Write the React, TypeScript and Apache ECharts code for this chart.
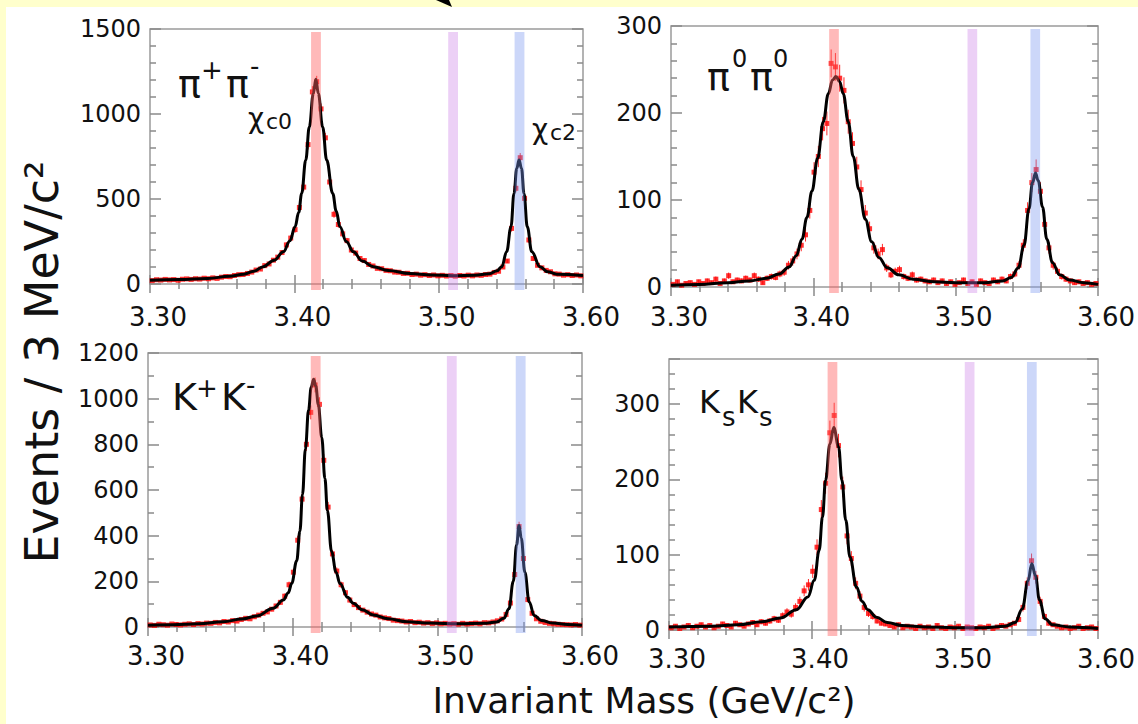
import React, { useEffect, useRef } from "react";
import * as echarts from "echarts";

// ---------- data ----------
const BIN_CENTERS: number[] = Array.from({ length: 100 }, (_, i) => +(3.3015 + 0.003 * i).toFixed(4));
const X_TICK_LABELS = ["3.30", "3.40", "3.50", "3.60"];

const PIPI_COUNTS = [
  20, 25, 23, 27, 24, 26, 22, 28, 30, 27, 31, 29, 34, 31, 36, 33, 40, 44, 43, 50,
  55, 56, 62, 70, 82, 88, 108, 118, 140, 158, 185, 230, 270, 320, 450, 570, 820, 1130, 1190, 1030,
  860, 600, 410, 350, 295, 255, 200, 182, 150, 138, 115, 106, 92, 90, 80, 78, 70, 69, 62, 63,
  56, 58, 52, 55, 50, 53, 48, 51, 47, 50, 46, 50, 47, 52, 48, 53, 51, 56, 58, 68,
  75, 100, 135, 327, 563, 743, 504, 259, 150, 110, 95, 80, 72, 60, 58, 52, 55, 50, 53, 48,
];
const PIPI_FIT: [number, number][] = [
  [3.3, 22], [3.32, 27], [3.34, 33], [3.355, 45], [3.365, 58], [3.372, 75], [3.3785, 102], [3.386, 140],
  [3.3924, 190], [3.397, 255], [3.4005, 337], [3.403, 420], [3.4051, 533], [3.4079, 729], [3.4104, 925],
  [3.4132, 1122], [3.4149, 1205], [3.4166, 1122], [3.4196, 925], [3.4224, 729], [3.4266, 533], [3.429, 430],
  [3.4316, 337], [3.436, 250], [3.4409, 190], [3.447, 135], [3.4547, 102], [3.465, 80], [3.48, 62],
  [3.495, 53], [3.51, 49], [3.525, 51], [3.535, 60], [3.5405, 78], [3.5437, 102], [3.5471, 190],
  [3.5501, 337], [3.5522, 533], [3.5541, 680], [3.5557, 729], [3.5574, 680], [3.5591, 533], [3.5614, 337],
  [3.5645, 190], [3.5702, 102], [3.5755, 72], [3.5818, 58], [3.6, 50],
];

const PI0PI0_COUNTS = [
  3, 6, 2, 4, 5, 3, 6, 4, 7, 5, 9, 4, 7, 13, 6, 8, 7, 10, 8, 13,
  9, 5, 10, 12, 11, 15, 17, 25, 30, 38, 48, 60, 88, 132, 150, 182, 188, 257, 253, 240,
  226, 190, 165, 138, 112, 85, 67, 45, 38, 43, 22, 14, 18, 20, 12, 10, 14, 8, 9, 7,
  6, 8, 5, 7, 4, 6, 3, 5, 8, 4, 6, 3, 7, 5, 4, 8, 6, 9, 7, 12,
  15, 25, 48, 88, 120, 135, 110, 72, 45, 25, 18, 12, 9, 7, 5, 6, 4, 5, 3, 4,
];
const PI0PI0_FIT: [number, number][] = [
  [3.3, 2], [3.32, 3], [3.34, 5], [3.355, 7], [3.367, 10], [3.376, 15], [3.383, 23], [3.388, 36],
  [3.392, 55], [3.3955, 80], [3.399, 110], [3.403, 148], [3.407, 190], [3.4105, 222], [3.4135, 238],
  [3.4159, 242], [3.4185, 236], [3.421, 222], [3.4245, 190], [3.428, 150], [3.432, 112], [3.4365, 78],
  [3.441, 52], [3.446, 34], [3.452, 22], [3.46, 14], [3.47, 9], [3.485, 6], [3.5, 5], [3.52, 5],
  [3.533, 7], [3.539, 11], [3.544, 22], [3.548, 48], [3.5515, 90], [3.554, 120], [3.556, 131],
  [3.558, 122], [3.561, 92], [3.564, 55], [3.568, 28], [3.573, 14], [3.58, 8], [3.59, 5], [3.6, 3],
];

const KK_COUNTS = [
  9, 7, 12, 10, 8, 13, 11, 9, 12, 14, 11, 15, 13, 17, 16, 20, 18, 24, 22, 28,
  26, 33, 38, 36, 45, 52, 60, 66, 78, 92, 108, 135, 185, 240, 380, 560, 800, 940, 1060, 975,
  730, 525, 320, 245, 185, 150, 118, 98, 85, 74, 65, 57, 52, 44, 40, 37, 30, 28, 26, 22,
  24, 19, 21, 17, 19, 15, 18, 14, 16, 13, 15, 12, 16, 13, 15, 17, 14, 19, 18, 22,
  27, 35, 55, 105, 230, 440, 300, 120, 60, 36, 25, 20, 16, 14, 12, 11, 10, 9, 11, 8,
];
const KK_FIT: [number, number][] = [
  [3.3, 8], [3.3175, 10], [3.335, 14], [3.352, 23], [3.365, 35], [3.3751, 48], [3.3866, 82], [3.3935, 118],
  [3.397, 150], [3.3993, 190], [3.4028, 290], [3.405, 420], [3.4068, 580], [3.4088, 780], [3.411, 950],
  [3.4128, 1050], [3.4145, 1085], [3.416, 1055], [3.4177, 975], [3.4201, 830], [3.4223, 650], [3.424, 510],
  [3.4269, 330], [3.43, 240], [3.4327, 190], [3.438, 130], [3.4419, 104], [3.448, 76], [3.4557, 53],
  [3.466, 36], [3.4788, 23], [3.495, 17], [3.515, 14], [3.532, 16], [3.541, 22], [3.546, 38], [3.5495, 80],
  [3.5525, 200], [3.5548, 360], [3.5565, 445], [3.558, 390], [3.5605, 240], [3.5635, 110], [3.567, 50],
  [3.572, 28], [3.58, 17], [3.59, 11], [3.6, 8],
];

const KSKS_COUNTS = [
  3, 5, 2, 4, 6, 3, 5, 7, 4, 6, 3, 5, 8, 6, 4, 9, 7, 5, 8, 10,
  7, 11, 9, 12, 15, 13, 19, 24, 21, 30, 38, 52, 60, 78, 110, 160, 195, 262, 285, 245,
  190, 125, 95, 62, 45, 30, 22, 18, 12, 9, 8, 6, 4, 7, 3, 5, 4, 2, 5, 3,
  4, 2, 6, 3, 2, 4, 3, 5, 2, 4, 3, 2, 4, 3, 5, 2, 4, 6, 5, 7,
  9, 14, 30, 62, 92, 70, 38, 18, 9, 7, 5, 3, 4, 2, 3, 5, 2, 3, 4, 2,
];
const KSKS_FIT: [number, number][] = [
  [3.3, 4], [3.33, 5], [3.3483, 7], [3.365, 11], [3.3778, 16], [3.3891, 27], [3.3971, 44], [3.4016, 66],
  [3.405, 106], [3.4073, 150], [3.4095, 199], [3.4125, 247], [3.4152, 269], [3.4186, 243], [3.4209, 199],
  [3.4236, 146], [3.4265, 97], [3.4311, 57], [3.435, 38], [3.439, 27], [3.445, 17], [3.4526, 10],
  [3.463, 6], [3.48, 4], [3.5, 3], [3.52, 3], [3.535, 5], [3.542, 10], [3.547, 28], [3.551, 65],
  [3.5537, 88], [3.5562, 72], [3.559, 40], [3.563, 15], [3.568, 7], [3.58, 4], [3.6, 2],
];

// chi_c0, chi_c1, chi_c2 highlight bands (mass of band centre, per panel)
const PIPI_BANDS = [3.415, 3.51, 3.556];
const PI0PI0_BANDS = [3.4145, 3.5117, 3.5559];
const KK_BANDS = [3.4159, 3.51, 3.5576];
const KSKS_BANDS = [3.4143, 3.5102, 3.5537];

// ---------- style / layout ----------
const FONT = "DejaVu Sans";
const BAND_COLORS = ["rgba(255,100,100,0.45)", "rgba(200,120,230,0.35)", "rgba(120,150,240,0.38)"];
const BAND_HALF = 0.0034;

const PANELS = [
  { rect: { left: 150, top: 29, width: 433, height: 255 }, yMax: 1500, yInt: 500, yMinor: 5, xMargin: 20, counts: PIPI_COUNTS, fit: PIPI_FIT, bands: PIPI_BANDS },
  { rect: { left: 671, top: 26, width: 435, height: 261 }, yMax: 300, yInt: 100, yMinor: 5, xMargin: 17, counts: PI0PI0_COUNTS, fit: PI0PI0_FIT, bands: PI0PI0_BANDS },
  { rect: { left: 148, top: 353, width: 434, height: 274 }, yMax: 1200, yInt: 200, yMinor: 2, xMargin: 16, counts: KK_COUNTS, fit: KK_FIT, bands: KK_BANDS },
  { rect: { left: 669, top: 359, width: 441, height: 271 }, yMax: 360, yInt: 100, yMinor: 5, xMargin: 16, counts: KSKS_COUNTS, fit: KSKS_FIT, bands: KSKS_BANDS },
];

const txt = (x: number, y: number, text: string, size: number, extra: any = {}) => ({
  type: "text",
  x,
  y,
  silent: true,
  z: 50,
  style: {
    text,
    fontSize: size,
    fontFamily: FONT,
    fill: "#111",
    textFill: "#111",
    align: "left",
    textAlign: "left",
    verticalAlign: "middle",
    textVerticalAlign: "middle",
    ...extra,
  },
});

function buildOption() {
  const grid: any[] = [];
  const xAxis: any[] = [];
  const yAxis: any[] = [];
  const series: any[] = [];
  const tickStyle = { color: "#8a8a8a", width: 1.5 };

  PANELS.forEach((p, k) => {
    grid.push({ ...p.rect, show: true, borderColor: "#9a9a9a", borderWidth: 1.5, backgroundColor: "#fff", containLabel: false });
    const baseX = {
      type: "value", gridIndex: k, min: 3.3, max: 3.6, interval: 0.1,
      splitLine: { show: false }, axisLine: { show: false },
      axisTick: { show: true, inside: true, length: 9, lineStyle: tickStyle },
      minorTick: { show: true, splitNumber: 5, length: 5, lineStyle: tickStyle },
      minorSplitLine: { show: false },
    };
    const xi = xAxis.length;
    xAxis.push({
      ...baseX, position: "bottom",
      axisLabel: {
        show: true, fontSize: 26, fontFamily: FONT, color: "#111", margin: p.xMargin, padding: [0, 0, 0, 16],
        formatter: (v: number) => X_TICK_LABELS[Math.round((v - 3.3) / 0.1)] ?? "",
      },
    });
    xAxis.push({ ...baseX, position: "top", axisLabel: { show: false } });
    const baseY = {
      type: "value", gridIndex: k, min: 0, max: p.yMax, interval: p.yInt,
      splitLine: { show: false }, axisLine: { show: false },
      axisTick: { show: true, inside: true, length: 11, lineStyle: tickStyle },
      minorTick: { show: true, splitNumber: p.yMinor, length: 6, lineStyle: tickStyle },
      minorSplitLine: { show: false },
    };
    const yi = yAxis.length;
    yAxis.push({
      ...baseY, position: "left",
      axisLabel: {
        show: true, fontSize: 24, fontFamily: FONT, color: "#111", margin: 9,
        formatter: (v: number) => (v % p.yInt === 0 ? String(v) : ""),
      },
    });
    yAxis.push({ ...baseY, position: "right", axisLabel: { show: false } });

    // error bars
    series.push({
      type: "custom", xAxisIndex: xi, yAxisIndex: yi, z: 2, silent: true, clip: true,
      data: p.counts.map((c, i) => [BIN_CENTERS[i], c, Math.sqrt(c)]),
      renderItem: (_params: any, api: any) => {
        const x = api.value(0), y = api.value(1), e = api.value(2);
        const a = api.coord([x, Math.max(0, y - e)]);
        const b = api.coord([x, y + e]);
        return { type: "line", shape: { x1: a[0], y1: a[1], x2: b[0], y2: b[1] }, style: { stroke: "#ff2a2a", lineWidth: 1 } };
      },
    });
    // data points
    series.push({
      type: "scatter", xAxisIndex: xi, yAxisIndex: yi, z: 3, silent: true,
      data: p.counts.map((c, i) => [BIN_CENTERS[i], c]),
      symbol: "rect", symbolSize: 5, itemStyle: { color: "#ff0000" },
    });
    // fit curve
    series.push({
      type: "line", xAxisIndex: xi, yAxisIndex: yi, z: 4, silent: true,
      data: p.fit, smooth: 0.4, smoothMonotone: "x", showSymbol: false, symbol: "none",
      lineStyle: { color: "#000", width: 3 },
    });
    // highlight bands
    series.push({
      type: "custom", xAxisIndex: xi, yAxisIndex: yi, z: 10, silent: true, clip: false,
      data: p.bands.map((c) => [c]),
      renderItem: (params: any, api: any) => {
        const c = api.value(0);
        const cs = params.coordSys;
        const a = api.coord([c - BAND_HALF, 0]);
        const b = api.coord([c + BAND_HALF, 0]);
        return {
          type: "rect",
          shape: { x: a[0], y: cs.y + 3, width: b[0] - a[0], height: cs.height + 3 },
          style: { fill: BAND_COLORS[params.dataIndex] },
        };
      },
    });
  });

  const graphic: any[] = [
    { type: "polygon", silent: true, shape: { points: [[436, 0], [449, 0], [452, 7]] }, style: { fill: "#000" } },
    // panel labels
    txt(178, 84, "π", 38), txt(201, 70, "+", 26), txt(226, 84, "π", 38), txt(250, 66, "-", 26),
    txt(248, 118, "χ", 28), txt(266, 121, "c0", 22),
    txt(532, 129, "χ", 28), txt(550, 132, "c2", 22),
    txt(707, 77, "π", 38), txt(732, 59, "0", 24), txt(750, 77, "π", 38), txt(773, 59, "0", 24),
    txt(172, 397, "K", 38), txt(196, 388, "+", 26), txt(221, 397, "K", 38), txt(246, 385, "-", 26),
    txt(699, 402, "K", 32), txt(722, 417, "s", 26), txt(737, 402, "K", 32), txt(759, 417, "s", 26),
    // axis titles
    txt(644, 700, "Invariant Mass (GeV/c²)", 36, { align: "center", textAlign: "center" }),
    { ...txt(42, 362, "Events / 3 MeV/c²", 46, { align: "center", textAlign: "center" }), rotation: Math.PI / 2 },
  ];

  return { animation: false, grid, xAxis, yAxis, series, graphic };
}

export default function App() {
  const ref = useRef<HTMLDivElement>(null);
  useEffect(() => {
    if (!ref.current) return;
    const chart = echarts.init(ref.current, undefined, { renderer: "svg" });
    chart.setOption(buildOption() as any);
    return () => chart.dispose();
  }, []);
  return (
    <div style={{ position: "absolute", left: 0, top: 0, width: 1138, height: 724, background: "#ffffcc", overflow: "hidden" }}>
      <div style={{ position: "absolute", left: 6, top: 7, right: 0, bottom: 0, background: "#fff" }} />
      <div ref={ref} style={{ position: "absolute", left: 0, top: 0, width: 1138, height: 724 }} />
    </div>
  );
}
